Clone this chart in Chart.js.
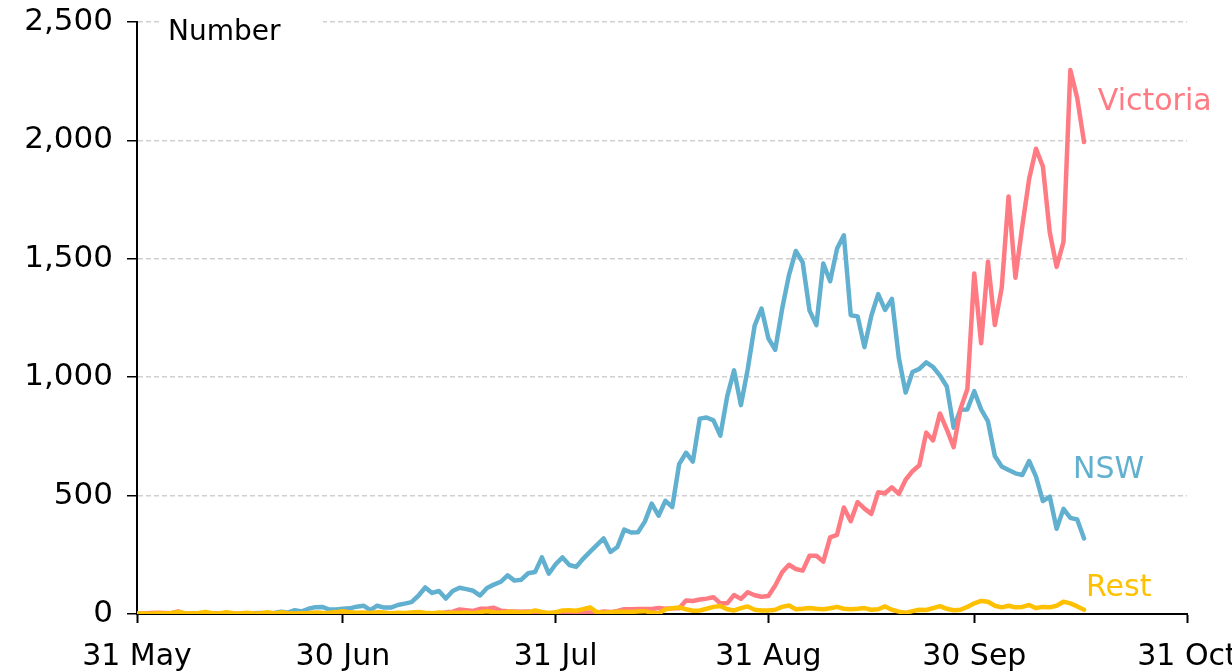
<!DOCTYPE html>
<html>
<head>
<meta charset="utf-8">
<title>Daily cases</title>
<script src="https://cdn.jsdelivr.net/npm/chart.js@4"></script>
<style>
  html, body { margin: 0; padding: 0; background: #fff; }
  #wrap { width: 1232px; height: 672px; position: relative; }
</style>
</head>
<body>
<div id="wrap"><canvas id="chart"></canvas></div>
<script>
// Date axis: days after 31 May and their labels
const tickDays = [0, 30, 61, 92, 122, 153];
const tickLabels = ['31 May', '30 Jun', '31 Jul', '31 Aug', '30 Sep', '31 Oct'];

// Daily values, one per day from 31 May to 16 Oct
const nsw = [
    0,
    0, 0, 0, 0, 0, 0, 0, 0, 0, 0, 0, 0, 0, 0, 0, 1, 3, 4, 2, 4, 10, 6, 16, 11, 22, 29, 30, 19, 19, 22,
    24, 31, 35, 16, 35, 27, 27, 38, 44, 50, 77, 112, 89, 97, 65, 97, 111, 105, 98, 78, 110, 124, 136, 163, 141, 145, 172, 177, 239, 170, 210,
    239, 207, 199, 233, 262, 291, 319, 262, 283, 356, 344, 345, 390, 466, 415, 478, 452, 633, 681, 644, 825, 830, 818, 753, 919, 1029, 882, 1035, 1218, 1290, 1164,
    1116, 1288, 1431, 1533, 1485, 1281, 1220, 1480, 1405, 1542, 1599, 1262, 1257, 1127, 1259, 1351, 1284, 1331, 1083, 935, 1022, 1035, 1063, 1043, 1007, 961, 787, 863, 864, 941,
    864, 813, 667, 623, 608, 594, 587, 646, 580, 477, 496, 360, 444, 406, 399, 319
];
const victoria = [
    1,
    2, 4, 5, 4, 3, 11, 1, 2, 1, 1, 2, 1, 3, 0, 0, 1, 0, 0, 0, 0, 0, 1, 0, 0, 0, 0, 0, 0, 1, 0,
    0, 0, 0, 0, 0, 0, 0, 0, 0, 1, 0, 0, 3, 2, 7, 10, 19, 16, 13, 22, 22, 26, 14, 12, 11, 10, 11, 3, 1, 1, 0,
    1, 1, 0, 6, 6, 5, 11, 8, 13, 20, 20, 21, 21, 21, 25, 22, 24, 24, 57, 55, 61, 65, 71, 45, 45, 80, 64, 92, 79, 73, 76,
    120, 176, 208, 190, 183, 246, 246, 221, 324, 334, 450, 392, 473, 445, 423, 514, 510, 535, 507, 567, 603, 628, 766, 733, 847, 779, 705, 867, 950, 1438,
    1143, 1488, 1220, 1377, 1763, 1420, 1638, 1838, 1965, 1890, 1612, 1466, 1571, 2297, 2179, 1993
];
const rest = [
    2,
    2, 1, 3, 2, 4, 9, 3, 2, 4, 9, 3, 2, 8, 3, 2, 5, 2, 3, 8, 2, 7, 3, 2, 3, 4, 6, 4, 5, 8, 12,
    7, 5, 6, 4, 8, 6, 3, 5, 4, 6, 8, 5, 3, 6, 4, 5, 4, 6, 3, 8, 12, 7, 5, 9, 8, 6, 7, 15, 9, 4, 7,
    15, 16, 14, 20, 28, 8, 5, 7, 9, 10, 8, 11, 12, 6, 2, 20, 24, 28, 20, 14, 15, 22, 30, 34, 20, 15, 25, 32, 18, 15, 15,
    18, 30, 36, 20, 22, 25, 22, 20, 24, 30, 22, 20, 22, 25, 18, 20, 32, 18, 10, 5, 12, 18, 17, 25, 33, 22, 16, 18, 30, 45,
    55, 52, 35, 28, 35, 28, 30, 38, 25, 30, 28, 35, 52, 45, 32, 18
];

// Series names, colours and where their names sit (day, value)
const seriesNames = ['Rest', 'Victoria', 'NSW'];
const seriesData = [rest, victoria, nsw];
const seriesColors = ['#ffc000', '#ff7b84', '#62b0cf'];
const labelDays = [138.3, 140, 136.4];
const labelValues = [74, 2128, 573];

const FONT = "'DejaVu Sans', sans-serif";

// Turn a list of daily values into x/y points
function toPoints(values) {
    return values.map((v, i) => ({ x: i, y: v }));
}

// Series names and the "Number" unit label
const labelPlugin = {
    id: 'labels',
    afterDatasetsDraw(chart) {
        const ctx = chart.ctx;
        const xs = chart.scales.x;
        const ys = chart.scales.y;
        const area = chart.chartArea;

        ctx.save();
        ctx.textBaseline = 'alphabetic';
        ctx.textAlign = 'left';

        // unit label sits on a white box over the top gridline
        ctx.fillStyle = '#fff';
        ctx.fillRect(area.left + 22, area.top - 6, 164, 30);
        ctx.fillStyle = '#000';
        ctx.font = '28px ' + FONT;
        ctx.fillText('Number', area.left + 31, area.top + 18);

        ctx.font = '30px ' + FONT;
        seriesNames.forEach((name, i) => {
            ctx.fillStyle = seriesColors[i];
            ctx.fillText(name, xs.getPixelForValue(labelDays[i]), ys.getPixelForValue(labelValues[i]));
        });
        ctx.restore();
    }
};

const chart = new Chart(document.getElementById('chart'), {
    type: 'line',
    data: {
        datasets: seriesNames.map((name, i) => ({
            label: name,
            data: toPoints(seriesData[i]),
            borderColor: seriesColors[i],
            borderWidth: 4.5,
            borderJoinStyle: 'round',
            borderCapStyle: 'round',
            pointRadius: 0,
            fill: false,
            tension: 0
        }))
    },
    options: {
        responsive: true,
        maintainAspectRatio: false,
        devicePixelRatio: 1,
        animation: false,
        layout: { padding: { top: 22, right: 45, left: 0, bottom: 0 } },
        plugins: {
            legend: { display: false },
            tooltip: { enabled: false }
        },
        scales: {
            x: {
                type: 'linear',
                min: 0,
                max: 153,
                afterBuildTicks: scale => {
                    scale.ticks = tickDays.map(v => ({ value: v }));
                },
                afterFit: scale => {
                    scale.height = 58;
                    scale.paddingLeft = 0;
                    scale.paddingRight = 0;
                },
                ticks: {
                    autoSkip: false,
                    maxRotation: 0,
                    padding: 16,
                    color: '#000',
                    font: { family: FONT, size: 30 },
                    callback: value => tickLabels[tickDays.indexOf(value)]
                },
                grid: {
                    drawOnChartArea: false,
                    drawTicks: true,
                    tickLength: 9,
                    tickColor: '#000',
                    tickWidth: 2
                },
                border: { color: '#000', width: 2 }
            },
            y: {
                min: 0,
                max: 2500,
                afterFit: scale => {
                    scale.width = 137;
                    scale.paddingTop = 0;
                    scale.paddingBottom = 0;
                },
                ticks: {
                    stepSize: 500,
                    padding: 14,
                    color: '#000',
                    font: { family: FONT, size: 31 },
                    callback: value => value.toLocaleString('en-US')
                },
                grid: {
                    color: c => (c.tick && c.tick.value === 0) ? 'rgba(0,0,0,0)' : '#d0d0d0',
                    lineWidth: 1.5,
                    drawTicks: true,
                    tickLength: 10,
                    tickColor: '#000',
                    tickWidth: 1.5,
                    tickBorderDash: []
                },
                border: { color: '#000', width: 2, dash: [5, 3] }
            }
        }
    },
    plugins: [labelPlugin]
});
</script>
</body>
</html>
